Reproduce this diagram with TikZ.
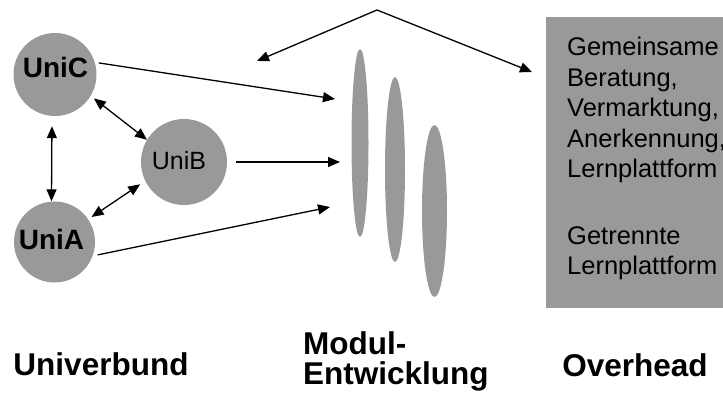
\documentclass[tikz,border=0pt]{standalone}
\usepackage{fontspec}
\setmainfont{Liberation Sans}
\usetikzlibrary{arrows.meta,shapes.geometric}
\definecolor{boxgray}{HTML}{999999}
\begin{document}
\begin{tikzpicture}[x=1pt,y=-1pt,
  uni/.style={circle,fill=boxgray,inner sep=0pt},
  lens/.style={ellipse,fill=boxgray,inner sep=0pt},
  tip/.tip={Triangle[length=12pt,width=10pt]},
  arr/.style={line width=1.3pt,-tip},
  darr/.style={line width=1.3pt,tip-tip},
  bigbold/.style={font=\fontsize{28}{28}\selectfont\bfseries,inner sep=0pt},
  smalltxt/.style={font=\fontsize{25}{25}\selectfont,inner sep=0pt},
  boxtxt/.style={font=\fontsize{25.5}{30.5}\selectfont,inner sep=0pt,align=left},
  caption/.style={font=\fontsize{31.5}{29}\selectfont\bfseries,inner sep=0pt}]
\useasboundingbox (0,0) rectangle (723,403);
% Univerbund circles
\node[uni,minimum size=83pt] (C) at (55,74.5) {};
\node[bigbold,anchor=base] (Ct) at (55.5,78) {UniC};
\node[uni,minimum size=86pt] (B) at (184,162) {};
\node[smalltxt,anchor=base] (Bt) at (179,170) {UniB};
\node[uni,minimum size=81pt] (A) at (54.5,242) {};
\node[bigbold,anchor=base] (At) at (51.5,250) {UniA};
% lenses
\node[lens,minimum width=17pt,minimum height=188pt] (E1) at (360,143) {};
\node[lens,minimum width=20pt,minimum height=185pt] (E2) at (395,169.5) {};
\node[lens,minimum width=25pt,minimum height=172pt] (E3) at (434.5,211) {};
% overhead box
\node[fill=boxgray,inner sep=0pt,minimum width=190pt,minimum height=291pt,anchor=north west] (O) at (546,17) {};
\node[boxtxt,anchor=base west] (Ot1) at (567,178) {Gemeinsame\\Beratung,\\Vermarktung,\\Anerkennung,\\Lernplattform};
\node[boxtxt,anchor=base west] (Ot2) at (567,275) {Getrennte\\Lernplattform};
% arrow ends
\coordinate (m1) at (335,99);
\coordinate (m2) at (340,162);
\coordinate (m3) at (330,207);
\coordinate (apex) at (377,10);
\coordinate (tl) at (257,61);
\coordinate (tr) at (532,72);
% connectors
\draw[arr,shorten <=4pt] (C.17) -- (m1);
\draw[arr,shorten <=9pt] (B) -- (m2);
\draw[arr,shorten <=5pt] (A.-20) -- (m3);
\draw[darr,shorten <=10pt] ([xshift=-3pt]C.south) -- ([xshift=-3pt]A.north);
\draw[darr,shorten <=4pt] (C.-31) -- (B.149);
\draw[darr,shorten <=4pt,shorten >=6pt] (A.34) -- (B.-154);
\draw[arr] (apex) -- (tl);
\draw[arr] (apex) -- (tr);
% captions
\node[caption,anchor=base] (L1) at (101,375) {Univerbund};
\node[caption,anchor=base west,align=left] (L2) at (303,384) {Modul-\\Entwicklung};
\node[caption,anchor=base] (L3) at (635,377) {Overhead};
\end{tikzpicture}
\end{document}
